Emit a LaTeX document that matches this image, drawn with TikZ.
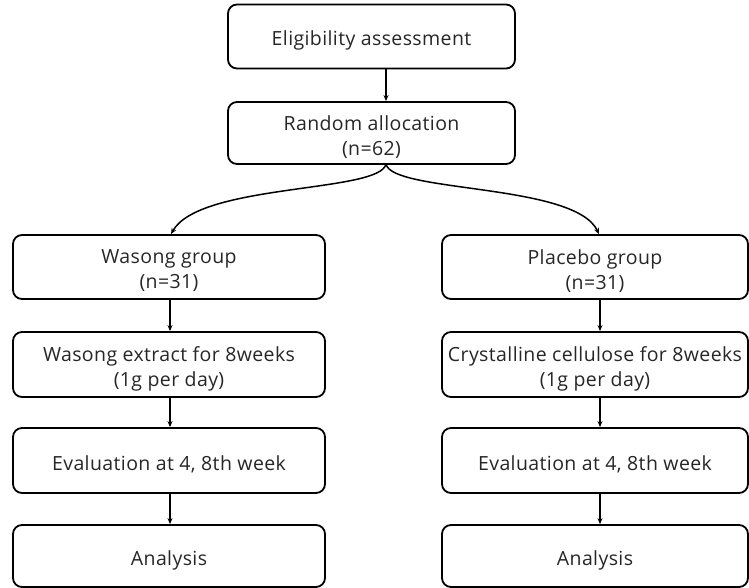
\documentclass[tikz,border=0pt]{standalone}
\usepackage{fontspec}
\setmainfont{Open Sans}
\usetikzlibrary{arrows.meta}
\begin{document}
\begin{tikzpicture}[x=1pt,y=1pt,
  box/.style={draw=black, line width=1.8pt, rounded corners=9pt, inner sep=0pt},
  lbl/.style={align=center, yshift=-4pt, inner sep=0pt,
    font=\fontsize{19.5}{25}\selectfont\addfontfeatures{LetterSpace=2}, text=black!85},
  arr/.style={line width=1.5pt, -{Stealth[length=6pt,width=5pt]}}]
\useasboundingbox (0,0) rectangle (749,588);
\node[box, minimum width=287pt, minimum height=64pt, label={[lbl]center:Eligibility assessment}] (elig) at (371.5,551.5) {};
\node[box, minimum width=287pt, minimum height=62pt, label={[lbl]center:Random allocation\\(n=62)}] (rand) at (371.5,455) {};
\node[box, minimum width=312pt, minimum height=64pt, label={[lbl]center:Wasong group\\(n=31)}] (wg) at (169,321) {};
\node[box, minimum width=306pt, minimum height=64pt, label={[lbl]center:Placebo group\\(n=31)}] (pg) at (595,321) {};
\node[box, minimum width=312pt, minimum height=65pt, label={[lbl]center:Wasong extract for 8weeks\\(1g per day)}] (we) at (169,223.5) {};
\node[box, minimum width=306pt, minimum height=65pt, label={[lbl]center:Crystalline cellulose for 8weeks\\(1g per day)}] (pc) at (595,223.5) {};
\node[box, minimum width=312pt, minimum height=65pt, label={[lbl]center:Evaluation at 4, 8th week}] (wv) at (169,127.5) {};
\node[box, minimum width=306pt, minimum height=65pt, label={[lbl]center:Evaluation at 4, 8th week}] (pv) at (595,127.5) {};
\node[box, minimum width=312pt, minimum height=62pt, label={[lbl]center:Analysis}] (wa) at (169,32) {};
\node[box, minimum width=306pt, minimum height=62pt, label={[lbl]center:Analysis}] (pa) at (595,32) {};
\draw[arr] (elig.south -| 386,0) -- (rand.north -| 386,0);
\coordinate (rs) at (386,424);
\draw[arr] (rs) .. controls (380,395) and (200,405) .. (wg.north -| 171,0);
\draw[arr] (rs) .. controls (392,395) and (575,405) .. (pg.north -| 599,0);
\draw[arr] (wg.south -| 170,0) -- (we.north -| 170,0);
\draw[arr] (we.south -| 170,0) -- (wv.north -| 170,0);
\draw[arr] (wv.south -| 170,0) -- (wa.north -| 170,0);
\draw[arr] (pg.south -| 600,0) -- (pc.north -| 600,0);
\draw[arr] (pc.south -| 600,0) -- (pv.north -| 600,0);
\draw[arr] (pv.south -| 600,0) -- (pa.north -| 600,0);
\end{tikzpicture}
\end{document}
